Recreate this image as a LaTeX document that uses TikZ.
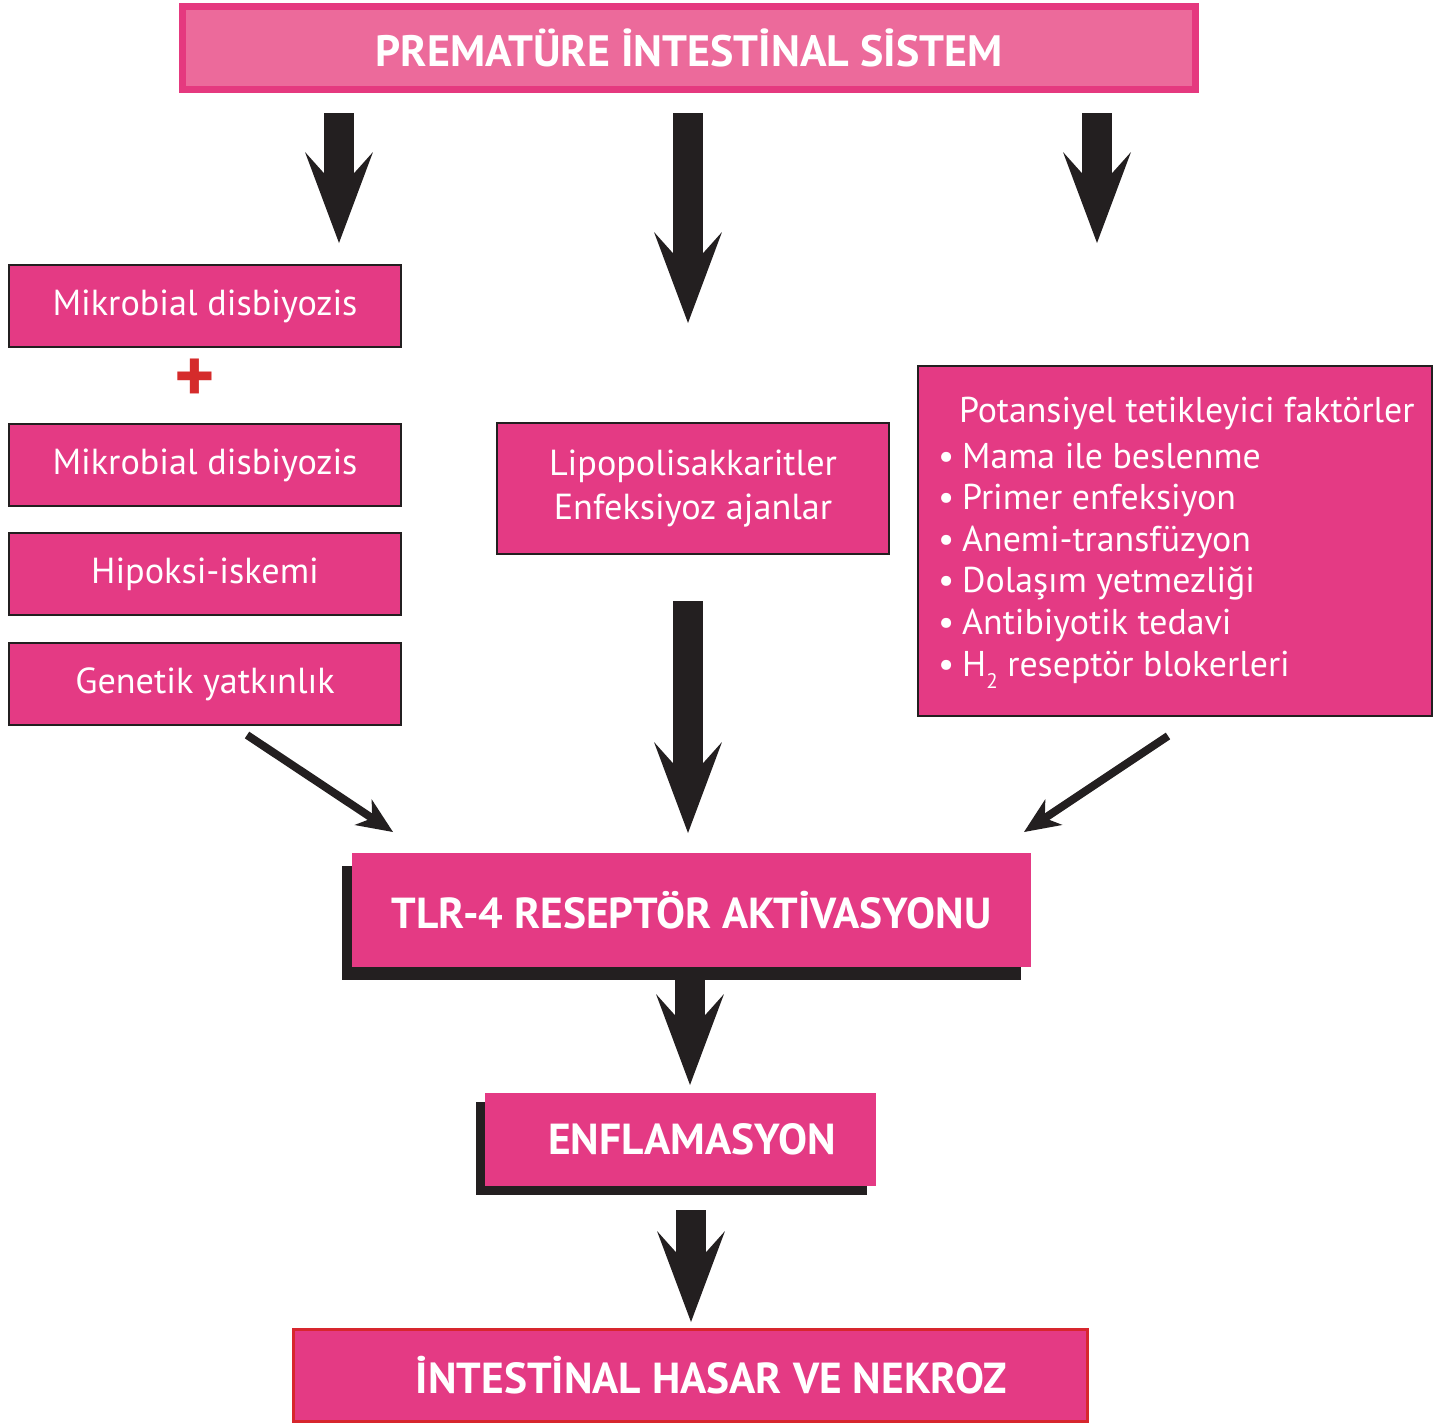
\documentclass[tikz,border=0pt]{standalone}
\usepackage{fontspec}
\setmainfont{PT Sans}
\usetikzlibrary{arrows.meta,shadows}
\definecolor{magbox}{HTML}{E43A84}
\definecolor{toppink}{HTML}{EC6A9B}
\definecolor{topline}{HTML}{E5397F}
\definecolor{darkline}{HTML}{231F20}
\definecolor{redline}{HTML}{D7262E}
\definecolor{plusred}{HTML}{D52B2B}

\begin{document}
\begin{tikzpicture}[x=0.02cm,y=-0.02cm,
    every node/.style={inner sep=0pt,outer sep=0pt},
    box/.style={draw=darkline,line width=1.4pt,fill=magbox,text=white,font=\fontsize{20.6}{25}\selectfont},
    leftbox/.style={box,minimum width=7.84cm,minimum height=1.64cm},
    bigbox/.style={fill=magbox,text=white,font=\fontsize{24.7}{28}\selectfont\bfseries},
    shadowed/.style={general shadow={fill=darkline,shadow xshift=-0.2cm,shadow yshift=-0.26cm}},
    fact/.style={anchor=base west,text=white,font=\fontsize{20.4}{25}\selectfont},
    bigarrow/.style={line width=0.6cm,darkline,-{Stealth[length=1.82cm,width=1.36cm,inset=0.76cm,line width=0pt]}},
    thinarrow/.style={line width=0.16cm,darkline,-{Stealth[length=0.72cm,width=0.62cm,inset=0.22cm,line width=0pt]}}]
  \useasboundingbox (0,0) rectangle (1445,1424);

  %top
  \node[draw=topline,line width=0.14cm,fill=toppink,text=white,font=\fontsize{25}{28}\selectfont\bfseries,
    minimum width=20.26cm,minimum height=1.66cm] (top) at (689,48) {PREMATÜRE İNTESTİNAL SİSTEM};

  %left column
  \node[leftbox] (mik1) at (205,306) {Mikrobial disbiyozis};
  \node[text=plusred,font=\fontsize{44}{44}\selectfont\bfseries] (plus) at (195,381) {+};
  \node[leftbox] (mik2) at (205,465) {Mikrobial disbiyozis};
  \node[leftbox] (hip) at (205,574) {Hipoksi-iskemi};
  \node[leftbox] (gen) at (205,684) {Genetik yatkınlık};

  %middle
  \node[box,align=center,minimum width=7.84cm,minimum height=2.62cm] (lps) at (693,488.5)
    {Lipopolisakkaritler\\Enfeksiyoz ajanlar};

  %right
  \node[box,minimum width=10.28cm,minimum height=7cm] (risk) at (1175,541) {};
  \node[fact] (rtitle) at (959,422) {Potansiyel tetikleyici faktörler};
  \foreach \t [count=\i] in {Mama ile beslenme,Primer enfeksiyon,Anemi-transfüzyon,
      Dolaşım yetmezliği,Antibiyotik tedavi,H\raisebox{-0.7ex}{\fontsize{12}{12}\selectfont 2} reseptör blokerleri}
    \node[fact] (f\i) at (938,{468+41.6*(\i-1)}) {\textbullet\hspace{0.16cm}\t};

  %bottom chain
  \node[bigbox,shadowed,minimum width=13.58cm,minimum height=2.28cm] (tlr) at (691.5,910)
    {TLR-4 RESEPTÖR AKTİVASYONU};
  \node[bigbox,general shadow={fill=darkline,shadow xshift=-0.18cm,shadow yshift=-0.18cm},
    minimum width=7.82cm,minimum height=1.86cm] (enf) at (680.5,1139.5)
    {\hspace*{0.46cm}ENFLAMASYON};
  \node[bigbox,draw=redline,line width=0.06cm,minimum width=15.9cm,minimum height=1.84cm] (nek) at (690.5,1375)
    {\hspace*{0.84cm}İNTESTİNAL HASAR VE NEKROZ};

  %arrows
  \coordinate (a1) at (339,113);  \coordinate (a1e) at (339,243);
  \coordinate (a2) at (688,113);  \coordinate (a2e) at (688,323);
  \coordinate (a3) at (1097,113); \coordinate (a3e) at (1097,243);
  \coordinate (a4) at (688,601);  \coordinate (a4e) at (688,833);
  \coordinate (a5) at (690,975);  \coordinate (a5e) at (690,1085);
  \coordinate (a6) at (691,1210); \coordinate (a6e) at (691,1322);
  \draw[bigarrow] (a1) -- (a1e);
  \draw[bigarrow] (a2) -- (a2e);
  \draw[bigarrow] (a3) -- (a3e);
  \draw[bigarrow] (a4) -- (a4e);
  \draw[bigarrow] (a5) -- (a5e);
  \draw[bigarrow] (a6) -- (a6e);

  \coordinate (l1) at (247,735);  \coordinate (l1e) at (393,832);
  \coordinate (r1) at (1168,736); \coordinate (r1e) at (1024,832);
  \draw[thinarrow] (l1) -- (l1e);
  \draw[thinarrow] (r1) -- (r1e);
\end{tikzpicture}
\end{document}
